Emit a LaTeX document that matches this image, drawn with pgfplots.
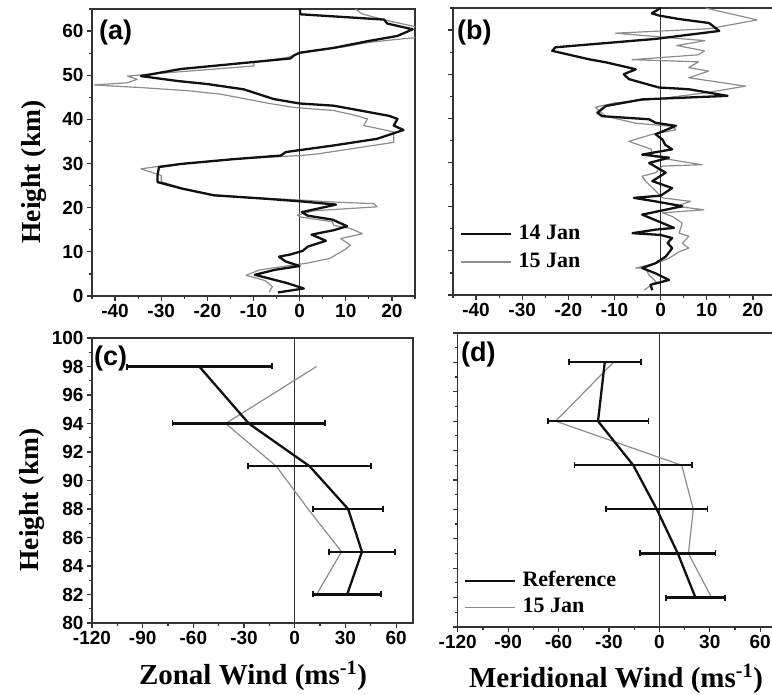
\documentclass[border=0pt]{standalone}
\usepackage{fontspec}
\setmainfont{Liberation Serif}
\setsansfont{Liberation Sans}
\usepackage{pgfplots}
\pgfplotsset{compat=1.18}

\definecolor{axisgray}{HTML}{333333}
\definecolor{lightline}{HTML}{8C8C8C}
\definecolor{darkline}{HTML}{111111}

\newcommand\tickfont{\fontsize{19}{19}\selectfont\sffamily\bfseries}
\newcommand\ylabelfont{\fontsize{27.5}{27.5}\selectfont\rmfamily\bfseries}
\newcommand\xlabelfont{\fontsize{29}{29}\selectfont\rmfamily\bfseries}
\newcommand\legfont{\fontsize{22}{22}\selectfont\rmfamily\bfseries}
\newcommand\panelfont{\fontsize{27}{27}\selectfont\sffamily\bfseries}

\pgfplotsset{
  panel/.style={
    scale only axis,
    anchor=north west,
    axis line style={line width=1.4pt, axisgray},
    every tick/.append style={line width=1.2pt, axisgray},
    major tick length=5pt,
    minor tick length=3pt,
    tick align=outside,
    xtick pos=bottom, ytick pos=left,
    tick label style={font=\tickfont, text=black},
    /pgf/number format/assume math mode=true,
    legend cell align=left,
  },
  upper/.style={panel, width=323pt, height=287pt,
    xmin=-45, xmax=25, ymin=0, ymax=65,
    xtick={-40,-30,...,20}, minor xtick={-45,-35,...,25},
    ytick={0,10,...,60}, minor ytick={5,15,...,65}},
  lower/.style={panel, xmin=-120, xmax=70, ymin=80, ymax=100,
    xtick={-120,-90,...,60}, minor xtick={-105,-75,...,45},
    ytick={80,82,...,100}, minor ytick={81,83,...,99}},
  day14/.style={darkline, line width=2.3pt, line join=round},
  day15/.style={lightline, line width=1.2pt, line join=round},
  zeroline/.style={axisgray, line width=1pt, forget plot},
  ebars/.style={day14, error bars/.cd, x dir=both, x explicit,
    error bar style={line width=2.2pt, darkline},
    error mark options={rotate=90, mark size=3pt, line width=1.8pt, darkline}},
  leg/.style n args={3}{
    legend style={at={(axis description cs:#1,#2)}, anchor=north west,
      draw=none, fill=none, inner sep=0pt, row sep=#3, column sep=6pt,
      font=\legfont, nodes={inner sep=0pt, text height=15pt, text depth=4pt}},
    legend image code/.code={\draw[##1] (0pt,0pt) -- (50pt,0pt);}},
}

\begin{document}
\begin{tikzpicture}

% (a) zonal wind, 0-65 km
\begin{axis}[upper, at={(92pt,-9pt)}]
\addplot[zeroline] coordinates {(0,0) (0,65)};
\addplot[day15] coordinates {
(-6.6,0.9) (-5.9,2.1) (-7.5,3.5) (-11.6,4.7) (-8.7,5.9) (-1.5,7) (1.4,7.4)
(6.5,8.5) (10.1,10.7) (11,11.5) (8.9,13) (13.6,14.1) (11,15.3) (7.4,16)
(7.1,16.8) (0.2,17.9) (-0.5,18.3) (3,19.3) (16.8,20.2) (16.1,20.9) (7,21.3)
(0.6,21.7) (-7,22.1) (-18.6,22.9) (-25.4,24.4) (-30,25.9) (-30,27.3)
(-34.4,28.8) (-29,29.6) (-14.2,31) (-2,31.7) (0.2,31.8) (4,32.2) (20.4,34.8)
(20.4,37.1) (18.9,37.5) (13.9,38.6) (14.7,40.1) (12.5,40.8) (7.4,42)
(-1.2,42.7) (-6,43.5) (-17.1,45.7) (-24.3,46.5) (-34.4,47.2) (-44.5,47.8)
(-37.3,48.3) (-35.2,49.1) (-37.3,49.8) (-33,50.2) (-9.9,52.1) (-9.9,52.9)
(-2.7,54) (0,55) (10,56.5) (14.7,57.4) (20,58) (25,58.5) (28,60) (25,61)
(18.5,62.5) (13.5,63.9) (12.1,65)};
\addplot[day14] coordinates {
(-4.7,0.8) (0.9,1.7) (-3,3) (-9.7,4.8) (-5.5,5.9) (0,6.8) (-3,7.8)
(-4.5,8.9) (-2,9.4) (0.6,10.2) (1.8,11.2) (5.7,12.5) (2.6,13.9) (7.4,14.9)
(10.3,15.8) (7.1,17.3) (1.7,18.2) (0.5,19) (7.9,20.7) (0.6,21.4) (-7,22)
(-18.6,22.8) (-25.4,24.3) (-30.8,25.8) (-30.8,27.3) (-30.5,29.2)
(-25.8,29.9) (-14.2,31) (-4.1,31.8) (-3,32.6) (7.4,34.1) (16.8,35.6)
(22.5,37.6) (20.4,38.6) (21.2,40.1) (19.4,40.8) (7.4,43.1) (0,43.6)
(-5.6,44.6) (-12.1,46.8) (-20,48) (-26.5,48.7) (-34.4,49.8) (-25.8,51.4)
(-9.9,53) (-2,53.8) (-1.2,54.5) (0,55.1) (7.4,56.2) (14.7,57.7)
(21.2,58.9) (24.5,60.4) (19,61.7) (18.3,62.6) (0.2,63.8) (0,65)};
\end{axis}

% (b) meridional wind, 0-65 km
\begin{axis}[upper, at={(453pt,-8pt)}, yticklabels={}, leg={0.022}{0.246}{9pt}]
\addlegendimage{day14}\addlegendentry{14 Jan}
\addlegendimage{day15}\addlegendentry{15 Jan}
\addplot[zeroline] coordinates {(0,0) (0,65)};
\addplot[day15, forget plot] coordinates {
(-3.6,1.1) (-1,3) (-2.5,4.5) (-3.3,6.1) (-5.4,6.1) (-1,7.2) (1.8,8.3)
(4,9.8) (6.1,10.6) (4.7,11.7) (6.1,13.3) (4,14) (4.7,16.3) (2.5,17.8)
(0.4,18.6) (9.4,19.3) (3.3,20.1) (6.5,21.2) (0.4,22) (-1.5,24) (-3.3,25.8)
(-4,26.9) (-1.1,27.7) (0.4,29.2) (9,29.5) (3,30.5) (-1.8,31.4) (-2,33)
(-6.9,34.8) (-1.8,36.4) (3.3,37.4) (2.5,38.2) (-5.4,38.9) (-11.9,40.5)
(-14.2,42.5) (-10,43.5) (0,44.5) (9.8,45.8) (18.4,47.3) (6.1,49.2)
(10.4,50.7) (6.1,51.5) (8.2,52.8) (-6.2,53.3) (8.2,54.4) (9.5,55.3)
(3.5,56.5) (9.6,57.6) (-9.8,59.3) (10.5,60.3) (20.9,62.3) (9.7,65)};
\addplot[day14, forget plot] coordinates {
(-1.8,1.1) (-2.2,2.3) (1.8,3.4) (-1.1,4.9) (-4,6.1) (-1.1,7.2) (1.1,8.7)
(2.5,10.6) (1.5,11.8) (2.5,12.9) (0,13.6) (-6.1,14) (-1.1,14.8) (2.9,15.2)
(-4,18.2) (4.7,20.1) (-1.1,21.2) (-5.8,22) (0,22.5) (2.5,24.2) (-1.8,25.8)
(1.1,27.7) (-2.5,29.9) (1.8,31.1) (-4,31.8) (2.5,33) (1,34) (0.4,35.2)
(-1.1,36.4) (3.3,38.3) (-1.1,39) (-2.5,39.8) (-12.7,40.5) (-13.7,41.3)
(-11.9,42.8) (-4,44.3) (14.5,45.1) (6.1,46.6) (-0.4,47) (-6.9,48.9)
(-8,50) (-5.4,51.1) (-6.9,51.5) (-11.9,52.7) (-15.6,53.4) (-23.5,55.3)
(-22.8,56.1) (-1.1,58) (12.7,59.8) (10.5,61.6) (4,62.5) (-0.4,63.3)
(-1.9,63.8) (0,65)};
\end{axis}

% (c) zonal wind, 80-100 km
\begin{axis}[lower, at={(92pt,-338pt)}, width=321pt, height=285pt]
\addplot[zeroline] coordinates {(0,80) (0,100)};
\addplot[day15] coordinates {
(12.9,98) (-40.9,94) (-10.9,91) (7.9,88) (27.7,85) (12.9,82)};
\addplot[ebars] coordinates {
(-56.5,98) +- (43,0)
(-27.2,94) +- (45.2,0)
(8.8,91) +- (36.4,0)
(31.6,88) +- (20.6,0)
(39.8,85) +- (19.6,0)
(31,82) +- (20,0)};
\end{axis}

% (d) meridional wind, 80-100 km
\begin{axis}[lower, at={(457.7pt,-333pt)}, width=319.3pt, height=294pt,
  yticklabels={}, leg={0.02}{0.189}{7pt}]
\addlegendimage{day14}\addlegendentry{Reference}
\addlegendimage{day15}\addlegendentry{15 Jan}
\addplot[zeroline] coordinates {(0,80) (0,100)};
\addplot[forget plot, day15] coordinates {
(-27.4,98) (-61.7,94) (13.3,91) (20.2,88) (17.3,85) (31.1,82)};
\addplot[forget plot, ebars] coordinates {
(-32.5,98) +- (21.4,0)
(-36.5,94) +- (30,0)
(-15.5,91) +- (35,0)
(-1.5,88) +- (30.2,0)
(11,85) +- (22.4,0)
(21.5,82) +- (17.5,0)};
\end{axis}

% panel letters and axis titles
\node[font=\panelfont, anchor=base west, inner sep=0pt] at (99pt,-40pt) {(a)};
\node[font=\panelfont, anchor=base west, inner sep=0pt] at (457pt,-40pt) {(b)};
\node[font=\panelfont, anchor=base west, inner sep=0pt] at (94pt,-366pt) {(c)};
\node[font=\panelfont, anchor=base west, inner sep=0pt] at (461pt,-362pt) {(d)};
\node[font=\ylabelfont, rotate=90, inner sep=0pt] at (34pt,-172pt) {Height (km)};
\node[font=\ylabelfont, rotate=90, inner sep=0pt] at (32pt,-500pt) {Height (km)};
\node[font=\xlabelfont, anchor=base, inner sep=0pt] at (253pt,-684pt) {Zonal Wind (ms\textsuperscript{-1})};
\node[font=\xlabelfont, anchor=base, inner sep=0pt] at (616pt,-687pt) {Meridional Wind (ms\textsuperscript{-1})};

\pgfresetboundingbox
\path[use as bounding box] (0pt,0pt) rectangle (772pt,-695pt);
\end{tikzpicture}
\end{document}
